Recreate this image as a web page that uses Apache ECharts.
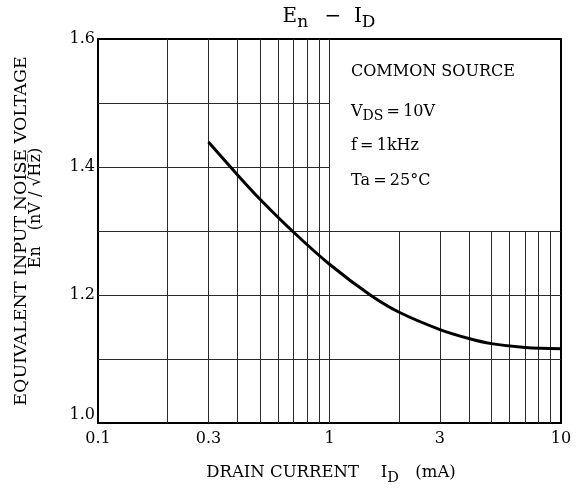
<!DOCTYPE html>
<html>
<head>
<meta charset="utf-8">
<script src="https://cdn.jsdelivr.net/npm/echarts@6/dist/echarts.min.js"></script>
<style>
html,body{margin:0;padding:0;background:#fff;}
#chart{width:579px;height:488px;}
</style>
</head>
<body>
<div id="chart"></div>
<script>
// ---- data ----
const drainCurrent = [0.3, 0.4, 0.5, 0.7, 1.0, 1.5, 2, 3, 4, 5, 7, 10];
const noiseVoltage = [1.439, 1.388, 1.350, 1.298, 1.248, 1.200, 1.173, 1.146, 1.132, 1.124, 1.118, 1.116];
const xTickLabels = [0.1, 0.3, 1, 3, 10];
const yTickLabels = [1.0, 1.2, 1.4, 1.6];
const xGridFull = [0.2, 0.3, 0.4, 0.5, 0.6, 0.7, 0.8, 0.9, 1];   // full height
const xGridLower = [2, 3, 4, 5, 6, 7, 8, 9];                     // up to 1.3 only
const yGridFull = [1.1, 1.2, 1.3];                               // full width
const yGridLeft = [1.4, 1.5];                                    // up to x = 1
const xMin = 0.1, xMax = 10, yMin = 1.0, yMax = 1.6, yBreak = 1.3, xBreak = 1;
const conditions = ['COMMON SOURCE', 'V{s|DS}\u2009=\u200910V', 'f\u2009=\u20091kHz', 'Ta\u2009=\u200925°C'];

const FONT = '"DejaVu Serif", serif';

const gridLines = [];
xGridFull.forEach(v => gridLines.push([{coord: [v, yMin]}, {coord: [v, yMax]}]));
xGridLower.forEach(v => gridLines.push([{coord: [v, yMin]}, {coord: [v, yBreak]}]));
yGridFull.forEach(v => gridLines.push([{coord: [xMin, v]}, {coord: [xMax, v]}]));
yGridLeft.forEach(v => gridLines.push([{coord: [xMin, v]}, {coord: [xBreak, v]}]));

const chart = echarts.init(document.getElementById('chart'), null, {renderer: 'canvas'});

const condTexts = conditions.map((t, i) => ({
  type: 'text',
  left: 351,
  top: [64, 101, 138, 173][i],
  style: {
    text: t,
    fill: '#000',
    font: '16px ' + FONT,
    rich: {
      s: {fontSize: 14, fontFamily: FONT, padding: [8, 0, 0, 0], lineHeight: 16}
    }
  }
}));

chart.setOption({
  animation: false,
  backgroundColor: '#fff',
  grid: {left: 98, top: 39, width: 463, height: 384, show: true, borderColor: '#000', borderWidth: 2, backgroundColor: 'transparent'},
  xAxis: {
    type: 'log', logBase: 10, min: xMin, max: xMax,
    axisLine: {show: true, lineStyle: {color: '#000', width: 2}},
    axisTick: {show: false},
    splitLine: {show: false},
    minorSplitLine: {show: false},
    axisLabel: {
      customValues: xTickLabels,
      color: '#000', fontFamily: FONT, fontSize: 16, margin: 8,
      formatter: v => String(+v.toPrecision(3))
    }
  },
  yAxis: {
    type: 'value', min: yMin, max: yMax, interval: 0.2,
    axisLine: {show: true, lineStyle: {color: '#000', width: 2}},
    axisTick: {show: false},
    splitLine: {show: false},
    axisLabel: {
      customValues: yTickLabels,
      color: '#000', fontFamily: FONT, fontSize: 16, margin: 3,
      formatter: v => Math.abs(v - yMin) < 1e-9 ? '{low|' + v.toFixed(1) + '}' : v.toFixed(1),
      rich: {low: {fontFamily: FONT, fontSize: 16, color: '#000', padding: [0, 0, 16, 0]}}
    }
  },
  series: [{
    type: 'line',
    data: drainCurrent.map((x, i) => [x, noiseVoltage[i]]),
    smooth: 0.35,
    symbol: 'none',
    lineStyle: {color: '#000', width: 3},
    z: 5,
    markLine: {
      silent: true,
      symbol: ['none', 'none'],
      label: {show: false},
      lineStyle: {color: '#2a2a2a', width: 1, type: 'solid'},
      data: gridLines,
      z: 1
    }
  }],
  graphic: [
    {
      type: 'text', x: 329, y: 17,
      style: {
        text: '{m|E}{s|n}{m|\u2002 −  I}{s|D}',
        align: 'center', verticalAlign: 'middle', fill: '#000',
        rich: {
          m: {fontSize: 20, fontFamily: FONT, lineHeight: 24},
          s: {fontSize: 17, fontFamily: FONT, lineHeight: 20, padding: [12, 0, 0, 0]}
        }
      }
    },
    {
      type: 'text', x: 331, y: 473,
      style: {
        text: '{m|DRAIN CURRENT\u2003 I}{s|D}{m|\u2003(mA)}',
        align: 'center', verticalAlign: 'middle', fill: '#000',
        rich: {
          m: {fontSize: 16.5, fontFamily: FONT, lineHeight: 20},
          s: {fontSize: 14.5, fontFamily: FONT, lineHeight: 16, padding: [10, 0, 0, 0]}
        }
      }
    },
    {
      type: 'text', x: 21, y: 231, rotation: Math.PI / 2,
      style: {
        text: 'EQUIVALENT INPUT NOISE VOLTAGE',
        align: 'center', verticalAlign: 'middle', fill: '#000',
        font: '17.5px ' + FONT
      }
    },
    {
      type: 'text', x: 36, y: 208, rotation: Math.PI / 2,
      style: {
        text: 'En\u2003(nV / √H\u0305z\u0305)',
        align: 'center', verticalAlign: 'middle', fill: '#000',
        font: '16px ' + FONT
      }
    }
  ].concat(condTexts)
});
</script>
</body>
</html>
